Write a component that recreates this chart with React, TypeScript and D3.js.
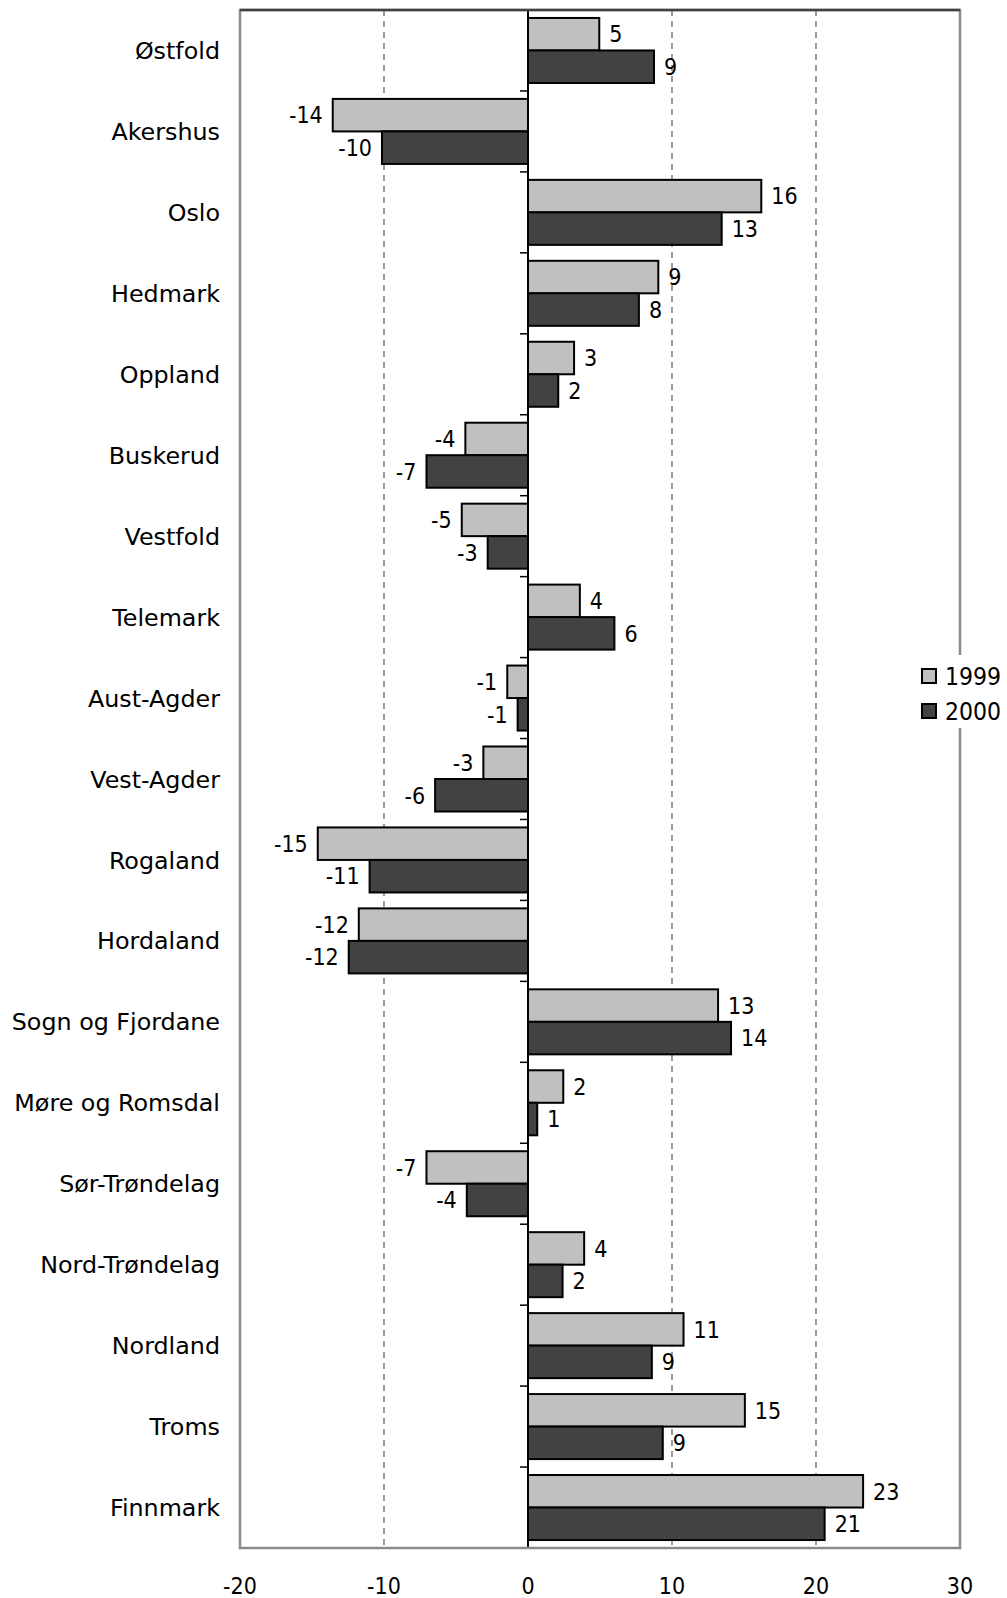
import React from "react";
import * as d3 from "d3";

// Counties, top to bottom
const counties = [
  "Østfold", "Akershus", "Oslo", "Hedmark", "Oppland", "Buskerud", "Vestfold",
  "Telemark", "Aust-Agder", "Vest-Agder", "Rogaland", "Hordaland",
  "Sogn og Fjordane", "Møre og Romsdal", "Sør-Trøndelag", "Nord-Trøndelag",
  "Nordland", "Troms", "Finnmark",
];

const seriesNames = ["1999", "2000"];

const values1999 = [
  4.95, -13.56, 16.2, 9.05, 3.2, -4.35, -4.6, 3.6, -1.44, -3.1,
  -14.6, -11.75, 13.2, 2.45, -7.05, 3.9, 10.8, 15.06, 23.27,
];
const values2000 = [
  8.75, -10.14, 13.45, 7.7, 2.1, -7.05, -2.8, 6.0, -0.72, -6.45,
  -11.0, -12.45, 14.1, 0.64, -4.25, 2.4, 8.6, 9.36, 20.6,
];

const xTicks = [-20, -10, 0, 10, 20, 30];
const gridValues = [-10, 10, 20];

const seriesFill: Record<string, string> = { "1999": "#c0c0c0", "2000": "#424242" };

const W = 1007;
const H = 1598;
const plot = { left: 240, right: 960, top: 10, bottom: 1548 };

const labelFont = "'DejaVu Sans', Verdana, sans-serif";
const numFont = "'DejaVu Sans Condensed', 'Noto Sans', sans-serif";

// plain hyphen for negative numbers
const locale = d3.formatLocale({
  decimal: ".",
  thousands: ",",
  grouping: [3],
  currency: ["", ""],
  minus: "-",
});
const fmt = locale.format(".0f");

export default function App() {
  const x = d3.scaleLinear().domain([-20, 30]).range([plot.left, plot.right]);
  const y = d3.scaleBand<string>().domain(counties).range([plot.top, plot.bottom]).padding(0);
  const ySeries = d3
    .scaleBand<string>()
    .domain(seriesNames)
    .range([0, y.bandwidth()])
    .paddingInner(0)
    .paddingOuter(0.245);

  const rows = counties.map((c, i) => ({
    county: c,
    vals: [
      { s: "1999", v: values1999[i] },
      { s: "2000", v: values2000[i] },
    ],
  }));

  const x0 = x(0);
  const boundaries = d3.range(counties.length + 1).map((i) => plot.top + i * y.step());

  return (
    <svg
      width={W}
      height={H}
      style={{ position: "absolute", left: 0, top: 0, background: "#fff" }}
    >
      <rect x={0} y={0} width={W} height={H} fill="#fff" />

      {/* dashed gridlines */}
      {gridValues.map((g) => (
        <line
          key={g}
          x1={x(g)}
          x2={x(g)}
          y1={plot.top}
          y2={plot.bottom}
          stroke="#666"
          strokeWidth={1.3}
          strokeDasharray="6,5"
        />
      ))}

      {/* bars */}
      {rows.map((r) =>
        r.vals.map((d) => {
          const by = (y(r.county) as number) + (ySeries(d.s) as number);
          const bh = ySeries.bandwidth();
          const xv = x(d.v);
          return (
            <rect
              key={r.county + d.s}
              x={Math.min(x0, xv)}
              y={by}
              width={Math.abs(xv - x0)}
              height={bh}
              fill={seriesFill[d.s]}
              stroke="#000"
              strokeWidth={2}
            />
          );
        })
      )}

      {/* value labels */}
      {rows.map((r) =>
        r.vals.map((d) => {
          const by = (y(r.county) as number) + (ySeries(d.s) as number) + ySeries.bandwidth() / 2;
          const xv = x(d.v);
          const pos = d.v >= 0;
          return (
            <text
              key={"l" + r.county + d.s}
              x={pos ? xv + 10 : xv - 10}
              y={by}
              dy="0.36em"
              textAnchor={pos ? "start" : "end"}
              fontFamily={numFont}
              fontSize={23}
              fill="#000"
            >
              {fmt(d.v)}
            </text>
          );
        })
      )}

      {/* zero axis with category ticks */}
      <line x1={x0} x2={x0} y1={plot.top} y2={plot.bottom} stroke="#000" strokeWidth={2} />
      {boundaries.map((b, i) => (
        <line key={"t" + i} x1={x0 - 8} x2={x0} y1={b} y2={b} stroke="#000" strokeWidth={1.5} />
      ))}

      {/* plot frame */}
      <rect
        x={plot.left}
        y={plot.top}
        width={plot.right - plot.left}
        height={plot.bottom - plot.top}
        fill="none"
        stroke="#8a8a8a"
        strokeWidth={2.5}
      />
      <line x1={plot.left} x2={plot.right} y1={plot.top} y2={plot.top} stroke="#404040" strokeWidth={2.5} />

      {/* category labels */}
      {counties.map((c) => (
        <text
          key={"c" + c}
          x={220}
          y={(y(c) as number) + y.bandwidth() / 2}
          dy="0.36em"
          textAnchor="end"
          fontFamily={labelFont}
          fontSize={23.8}
          fill="#000"
        >
          {c}
        </text>
      ))}

      {/* x tick labels */}
      {xTicks.map((t) => (
        <text
          key={"x" + t}
          x={x(t)}
          y={1594}
          textAnchor="middle"
          fontFamily={numFont}
          fontSize={23}
          fill="#000"
        >
          {fmt(t)}
        </text>
      ))}

      {/* legend */}
      <rect x={912} y={655} width={95} height={73} fill="#fff" />
      {seriesNames.map((s, i) => (
        <g key={"lg" + s} transform={`translate(922, ${669 + i * 35})`}>
          <rect x={0} y={0} width={14} height={14} fill={seriesFill[s]} stroke="#000" strokeWidth={2} />
          <text x={23} y={16} fontFamily={numFont} fontSize={24.5} fill="#000">
            {s}
          </text>
        </g>
      ))}
    </svg>
  );
}
